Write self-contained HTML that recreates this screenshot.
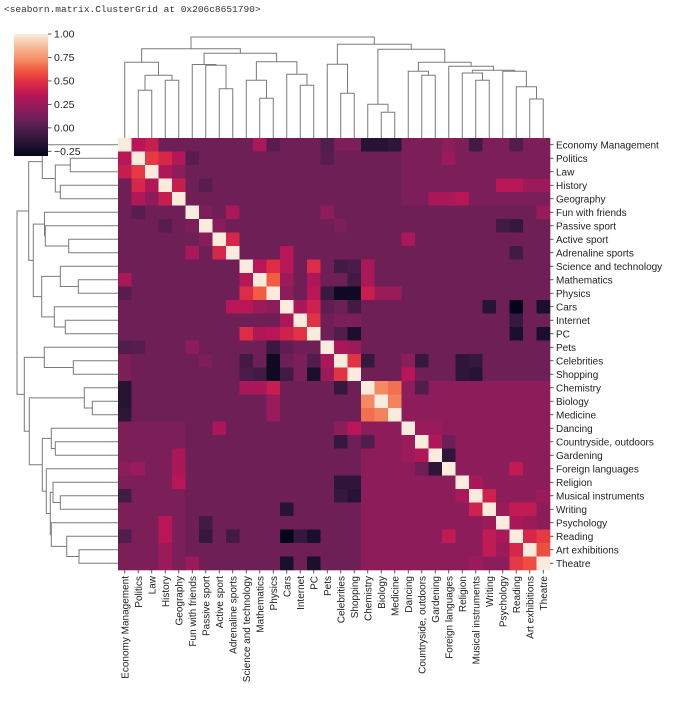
<!DOCTYPE html>
<html><head><meta charset="utf-8">
<style>
body{margin:0;background:#fff;width:679px;height:697px;overflow:hidden}
svg text{font-family:"Liberation Sans",sans-serif;font-size:10px;fill:#222}
</style></head>
<body>
<svg id="chart" width="679" height="697" xmlns="http://www.w3.org/2000/svg">
<text x="4" y="12" style="font-family:'Liberation Mono',monospace;font-size:9.5px;fill:#333">&lt;seaborn.matrix.ClusterGrid at 0x206c8651790&gt;</text>
<g id="heat"></g>
<g id="topd"></g>
<g id="leftd"></g>
<g id="rowlab"></g>
<g id="collab"></g>
<defs><linearGradient id="cbg" x1="0" y1="1" x2="0" y2="0"></linearGradient></defs>
<g id="cbar"></g>
</svg>
<script>
const labels=["Economy Management","Politics","Law","History","Geography","Fun with friends","Passive sport","Active sport","Adrenaline sports","Science and technology","Mathematics","Physics","Cars","Internet","PC","Pets","Celebrities","Shopping","Chemistry","Biology","Medicine","Dancing","Countryside, outdoors","Gardening","Foreign languages","Religion","Musical instruments","Writing","Psychology","Reading","Art exhibitions","Theatre"];
const defaultValue=0.1;
const blocks=[[18,31,18,31,0.2],[0,4,24,31,0.15],[21,31,0,4,0.15]];
const pairs=[[0,1,.35],[0,2,.4],[0,10,.3],[0,11,0.02],[0,15,0],[0,18,-.15],[0,19,-.15],[0,20,-.12],[0,24,.2],[0,26,-.05],[0,29,0],[0,16,.15],[0,17,.15],
[1,2,.52],[1,3,.45],[1,4,.33],[1,5,0.02],[1,15,0.02],[1,24,.25],
[2,3,.32],[2,4,.2],[3,4,.4],[3,6,0.02],[3,28,.35],[3,29,.35],[3,30,.25],[3,31,.25],[4,23,.3],[4,25,.35],[4,24,.3],
[5,8,.3],[5,6,.15],[5,15,.2],[5,31,.25],
[6,7,.18],[6,28,-.05],[6,29,-.1],[6,16,.15],[7,8,.45],[7,21,.3],[8,12,.35],[8,29,-.05],
[9,10,.35],[9,11,.48],[9,12,.35],[9,14,.48],[9,18,.3],[9,16,-.05],[9,17,-.02],
[10,11,.62],[10,18,.3],[10,14,.32],[10,12,.25],[10,17,-.05],
[11,12,.2],[11,14,.35],[11,15,-.08],[11,16,-.25],[11,17,-.25],[11,18,.4],[11,19,.25],[11,20,.25],
[12,13,.3],[12,14,.42],[12,27,-.15],[12,29,-.3],[12,31,-.2],[12,17,-.05],[12,15,.05],
[13,14,.5],[13,16,.15],[13,17,.15],[13,29,-.1],
[14,17,-.2],[14,29,-.2],[14,31,-.2],[14,16,0],
[15,16,.3],[15,17,.25],
[16,17,.5],[16,18,-.1],[16,22,-.1],[16,25,-.12],[16,26,-.1],[16,21,.2],[17,21,.35],[17,26,-.15],[17,25,-.12],
[18,19,.72],[18,20,.66],[19,20,.7],[18,22,0],[20,21,.2],
[21,22,.25],[21,23,.25],[22,23,.32],[23,24,-.12],[22,24,.1],
[24,29,.38],[24,27,.2],
[25,26,.3],[25,27,.2],[26,27,.42],[26,31,.25],[27,28,.25],[27,29,.38],[27,30,.38],[28,29,.3],[28,30,.25],
[29,30,.45],[29,31,.52],[30,31,.58]];
const merges=[[1,2,47.7],[3,4,57.7],[32,33,62.7],[0,34,75.7],[7,8,49.3],[6,36,72.7],[5,37,73.5],[10,11,39.7],[9,39,57.7],[13,14,52.7],[12,41,63.7],[40,42,76.3],[38,43,84.7],[35,44,89.3],[16,17,44.7],[15,46,73.7],[19,20,25.7],[18,48,33.7],[22,23,62.7],[21,50,66.7],[30,31,39],[29,52,51.3],[26,27,57.7],[25,54,65],[28,53,66.7],[55,56,67.7],[24,57,71.7],[51,58,75.7],[49,59,88.7],[47,60,93.7],[45,61,101]];
const cbTicks=[1.0,0.75,0.5,0.25,0.0,-0.25];
const cbTickText=["1.00","0.75","0.50","0.25","0.00","\u22120.25"];

const NS="http://www.w3.org/2000/svg";
const X0=118,Y0=138,C=13.5,N=labels.length,VMIN=-0.3,VMAX=1.0;
const stops=[[0,[3,5,26]],[0.1,[34,19,49]],[0.2,[69,28,71]],[0.3,[106,31,86]],[0.4,[146,28,91]],[0.5,[185,22,87]],[0.6,[221,44,69]],[0.7,[240,88,62]],[0.8,[245,147,106]],[0.9,[246,190,155]],[1,[250,235,221]]];
function color(v){let t=Math.max(0,Math.min(1,(v-VMIN)/(VMAX-VMIN)));
for(let k=1;k<stops.length;k++){if(t<=stops[k][0]){const a=stops[k-1],b=stops[k],f=(t-a[0])/(b[0]-a[0]);
return "rgb("+a[1].map((c,i)=>Math.round(c+(b[1][i]-c)*f)).join(",")+")";}}return "rgb(250,235,221)";}
function el(tag,attrs,parent){const e=document.createElementNS(NS,tag);for(const k in attrs)e.setAttribute(k,attrs[k]);parent.appendChild(e);return e;}
const M=[];for(let i=0;i<N;i++){M.push(new Array(N).fill(defaultValue));M[i][i]=1;}
blocks.forEach(b=>{for(let i=b[0];i<=b[1];i++)for(let j=b[2];j<=b[3];j++)if(i!==j){M[i][j]=b[4];M[j][i]=b[4];}});
pairs.forEach(p=>{M[p[0]][p[1]]=p[2];M[p[1]][p[0]]=p[2];});
const heat=document.getElementById('heat');
for(let i=0;i<N;i++)for(let j=0;j<N;j++){
const r=el('rect',{x:X0+j*C,y:Y0+i*C,width:C+0.3,height:C+0.3,fill:color(M[i][j])},heat);

}
const rl=document.getElementById('rowlab'),cl=document.getElementById('collab');
labels.forEach((l,i)=>{const yc=Y0+(i+0.5)*C;
el('line',{x1:X0+N*C,x2:X0+N*C+3.5,y1:yc,y2:yc,stroke:'#333','stroke-width':0.8},rl);
const t=el('text',{x:X0+N*C+6,y:yc+3.5},rl);t.textContent=l;


const xc=X0+(i+0.5)*C;
el('line',{x1:xc,x2:xc,y1:Y0+N*C,y2:Y0+N*C+3.5,stroke:'#333','stroke-width':0.8},cl);
const c=el('text',{x:0,y:0,transform:'translate('+(xc+3.5)+','+(Y0+N*C+6)+') rotate(-90)','text-anchor':'end'},cl);c.textContent=l;

});
// dendrograms
const pos=[],ht=[];for(let i=0;i<N;i++){pos.push(X0+(i+0.5)*C);ht.push(0);}
merges.forEach(m=>{pos.push((pos[m[0]]+pos[m[1]])/2);ht.push(m[2]);});
const td=document.getElementById('topd'),ld=document.getElementById('leftd');
merges.forEach(m=>{const a=m[0],b=m[1],h=m[2];
const pa=pos[a],pb=pos[b];const YB=Y0,XB=X0;
const p1=el('polyline',{points:pa+','+(YB-ht[a])+' '+pa+','+(YB-h)+' '+pb+','+(YB-h)+' '+pb+','+(YB-ht[b]),fill:'none',stroke:'#7a7a7a','stroke-width':1},td);


const qa=pa-X0+Y0,qb=pb-X0+Y0;
const p2=el('polyline',{points:(XB-ht[a])+','+qa+' '+(XB-h)+','+qa+' '+(XB-h)+','+qb+' '+(XB-ht[b])+','+qb,fill:'none',stroke:'#7a7a7a','stroke-width':1},ld);

});
// colorbar
const g=document.getElementById('cbg');
for(let k=0;k<=20;k++){const v=VMIN+(VMAX-VMIN)*k/20;el('stop',{offset:(k*5)+'%','stop-color':color(v)},g);}
const cb=document.getElementById('cbar');const CT=34,CB=156,CX=14,CW=34;
el('rect',{x:CX,y:CT,width:CW,height:CB-CT,fill:'url(#cbg)'},cb);
cbTicks.forEach((v,k)=>{const y=CB-(v-VMIN)/(VMAX-VMIN)*(CB-CT);
el('line',{x1:CX+CW,x2:CX+CW+3.5,y1:y,y2:y,stroke:'#333','stroke-width':0.8},cb);
const t=el('text',{x:CX+CW+6,y:y+3.5,style:'font-size:10.5px'},cb);t.textContent=cbTickText[k];

});
</script>
</body></html>
